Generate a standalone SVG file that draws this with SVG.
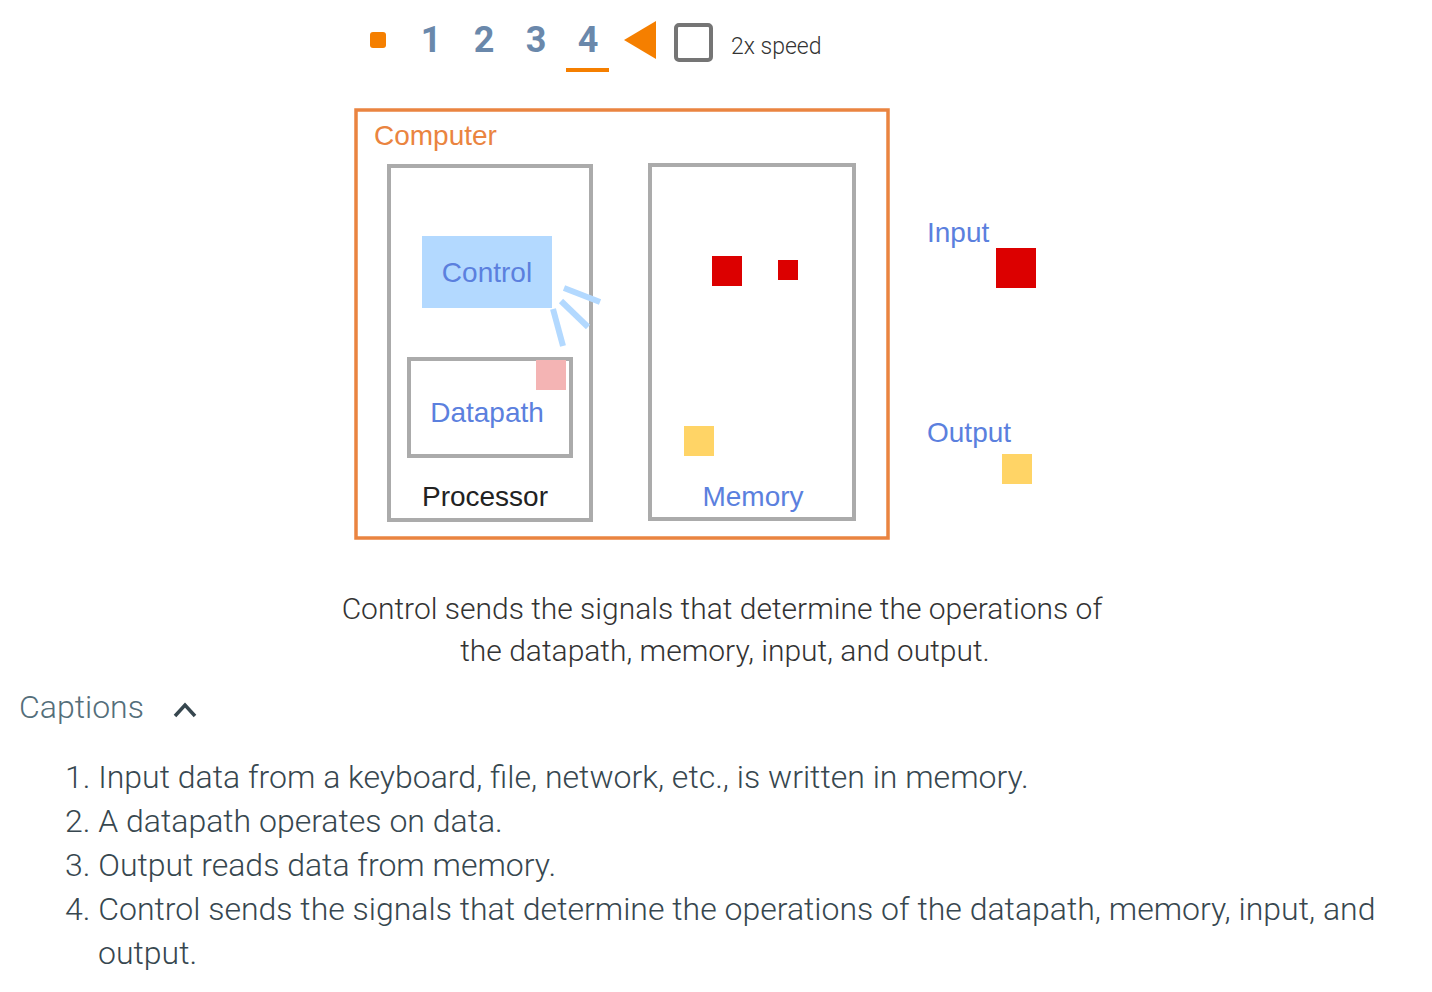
<svg xmlns="http://www.w3.org/2000/svg" width="1432" height="992" viewBox="0 0 1432 992">
<style>
.lbl{font-family:"Liberation Sans",Arial,sans-serif;font-size:28px;fill:#5b80de}
.box{fill:none;stroke:#ababab;stroke-width:4}
.sig{stroke:#b3d9ff;stroke-width:6;fill:none}
.cap{font-family:Roboto,"Liberation Sans",sans-serif;font-weight:300;font-size:30px;fill:#333}
.li{font-family:Roboto,"Liberation Sans",sans-serif;font-weight:300;font-size:32px;fill:#37474f}
.step{font-family:Roboto,"Liberation Sans",sans-serif;font-weight:700;font-size:36px;fill:#6a88ab;text-anchor:middle}
</style>
<rect width="1432" height="992" fill="#fff"/>
<g id="toolbar">
<rect x="370" y="32" width="16" height="16" rx="3" fill="#f57f00"/>
<text class="step" x="431" y="52">1</text>
<text class="step" x="484" y="52">2</text>
<text class="step" x="536" y="52">3</text>
<text class="step" x="588" y="52">4</text>
<rect x="566" y="68" width="43" height="4" fill="#f57f00"/>
<polygon points="624,40 656,21 656,59" fill="#f57f00"/>
<rect x="676" y="25" width="35" height="35" rx="3" fill="none" stroke="#757575" stroke-width="4"/>
<text x="731" y="54" style="font-family:Roboto,'Liberation Sans',sans-serif;font-weight:300;font-size:23px;fill:#333">2x speed</text>
</g>
<g id="computer">
<rect x="356" y="110" width="532" height="428" fill="none" stroke="#ea8440" stroke-width="3.5"/>
<text class="lbl" x="374" y="145" style="fill:#ea8440">Computer</text>
</g>
<g id="processor">
<rect class="box" x="389" y="166" width="202" height="354"/>
<text class="lbl" x="485" y="506" text-anchor="middle" style="fill:#222">Processor</text>
</g>
<g id="control">
<rect x="422" y="236" width="130" height="72" fill="#b3d9ff"/>
<text class="lbl" x="487" y="282" text-anchor="middle">Control</text>
</g>
<g id="datapath">
<rect class="box" x="409" y="359" width="162" height="97"/>
<rect x="536" y="360" width="30" height="30" fill="#f4b4b4"/>
<text class="lbl" x="487" y="422" text-anchor="middle">Datapath</text>
</g>
<g id="memory">
<rect class="box" x="650" y="165" width="204" height="354"/>
<rect x="712" y="256" width="30" height="30" fill="#dc0000"/>
<rect x="778" y="260" width="20" height="20" fill="#dc0000"/>
<rect x="684" y="426" width="30" height="30" fill="#ffd466"/>
<text class="lbl" x="753" y="506" text-anchor="middle">Memory</text>
</g>
<g id="input">
<text class="lbl" x="927" y="242">Input</text>
<rect x="996" y="248" width="40" height="40" fill="#dc0000"/>
</g>
<g id="output">
<text class="lbl" x="927" y="442">Output</text>
<rect x="1002" y="454" width="30" height="30" fill="#ffd466"/>
</g>
<g id="connectors">
<line class="sig" x1="553" y1="309" x2="563" y2="346"/>
<line class="sig" x1="561" y1="301" x2="588" y2="327"/>
<line class="sig" x1="564" y1="288" x2="600" y2="302"/>
</g>
<g id="caption">
<text class="cap" x="722" y="619" text-anchor="middle">Control sends the signals that determine the operations of</text>
<text class="cap" x="725" y="661" text-anchor="middle">the datapath, memory, input, and output.</text>
</g>
<g id="captions">
<text x="19" y="718" style="font-family:Roboto,'Liberation Sans',sans-serif;font-weight:300;font-size:32px;fill:#546e7a">Captions</text>
<polyline points="175,716 185,705 195,716" fill="none" stroke="#37474f" stroke-width="3.5"/>
<text class="li" x="65" y="788">1. Input data from a keyboard, file, network, etc., is written in memory.</text>
<text class="li" x="65" y="832">2. A datapath operates on data.</text>
<text class="li" x="65" y="876">3. Output reads data from memory.</text>
<text class="li" x="65" y="920">4. Control sends the signals that determine the operations of the datapath, memory, input, and</text>
<text class="li" x="98" y="964">output.</text>
</g>
</svg>
